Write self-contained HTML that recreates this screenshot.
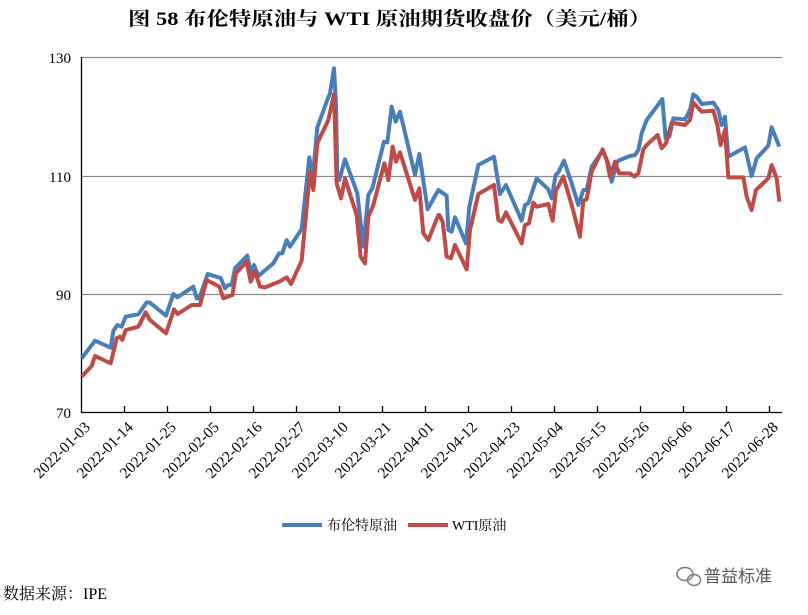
<!DOCTYPE html>
<html><head><meta charset="utf-8"><style>
body{margin:0;background:#fff;width:808px;height:610px;overflow:hidden}
text{font-family:"Liberation Serif","Noto Serif CJK SC",serif}
</style></head><body>
<svg width="808" height="610" xmlns="http://www.w3.org/2000/svg">
<text x="128" y="25" textLength="523" lengthAdjust="spacingAndGlyphs" font-size="19" font-weight="bold" fill="#000">图 58  布伦特原油与 WTI 原油期货收盘价（美元/桶）</text>
<g stroke="#8c8c8c" stroke-width="1.3">
<line x1="82" y1="57.5" x2="782" y2="57.5"/>
<line x1="82" y1="176.5" x2="782" y2="176.5"/>
<line x1="82" y1="294.5" x2="782" y2="294.5"/>
</g>
<g stroke="#000" stroke-width="1.3">
<line x1="81.5" y1="57" x2="81.5" y2="412.5"/>
<line x1="81" y1="412.5" x2="782" y2="412.5"/>
<line x1="124.5" y1="406" x2="124.5" y2="412"/><line x1="167.5" y1="406" x2="167.5" y2="412"/><line x1="210.5" y1="406" x2="210.5" y2="412"/><line x1="253.5" y1="406" x2="253.5" y2="412"/><line x1="296.5" y1="406" x2="296.5" y2="412"/><line x1="339.5" y1="406" x2="339.5" y2="412"/><line x1="382.5" y1="406" x2="382.5" y2="412"/><line x1="425.5" y1="406" x2="425.5" y2="412"/><line x1="468.5" y1="406" x2="468.5" y2="412"/><line x1="511.5" y1="406" x2="511.5" y2="412"/><line x1="554.5" y1="406" x2="554.5" y2="412"/><line x1="597.5" y1="406" x2="597.5" y2="412"/><line x1="640.5" y1="406" x2="640.5" y2="412"/><line x1="683.5" y1="406" x2="683.5" y2="412"/><line x1="726.5" y1="406" x2="726.5" y2="412"/><line x1="769.5" y1="406" x2="769.5" y2="412"/>
</g>
<g font-size="15" text-anchor="end" fill="#000">
<text x="71" y="63">130</text><text x="71" y="182">110</text><text x="71" y="300">90</text><text x="71" y="418">70</text>
</g>
<g font-size="15.5" text-anchor="end" fill="#000" id="xl"></g>
<g transform="translate(80,50) scale(0.33333)" fill="none" stroke-linejoin="round">
<polyline stroke="#4a7ebb" stroke-width="12" points="5,925 45,872 92,893 100,843 112,825 125,830 137,800 175,793 200,757 210,758 258,797 280,732 292,742 340,710 350,745 358,745 383,672 422,684 435,715 445,705 455,705 465,655 502,617 513,670 522,645 535,678 580,640 597,610 607,610 620,570 630,590 665,537 688,322 698,385 712,232 742,150 750,130 762,55 768,160 772,385 778,390 795,328 832,430 850,590 865,435 877,415 912,275 922,277 935,170 947,215 960,185 1005,375 1018,312 1043,478 1075,420 1050,465 1075,420 1100,437 1105,540 1115,545 1125,502 1158,580 1168,470 1195,345 1242,320 1260,432 1278,405 1325,512 1335,465 1345,460 1370,385 1405,418 1415,445 1427,375 1435,367 1452,332 1475,400 1495,465 1510,420 1520,420 1535,350 1568,302 1585,340 1595,395 1610,340 1615,332 1650,318 1665,315 1675,300 1685,250 1700,210 1730,170 1747,147 1757,265 1768,260 1780,205 1815,208 1830,180 1840,133 1850,140 1865,162 1900,158 1915,180 1925,225 1935,200 1945,320 1995,292 2015,378 2030,325 2065,287 2075,232 2098,290"/>
<polyline stroke="#be4b48" stroke-width="12" points="5,980 35,948 45,918 92,940 110,865 120,860 127,870 137,840 175,830 197,787 210,810 258,850 282,778 293,792 335,765 360,765 380,690 418,710 430,745 457,735 468,670 500,635 512,695 525,665 540,710 555,712 598,695 620,682 633,702 665,632 690,365 700,420 712,280 745,210 762,133 770,400 783,445 795,385 830,495 842,620 855,640 865,500 880,465 913,340 925,390 938,290 948,335 960,307 1005,450 1018,415 1030,550 1045,570 1075,495 1078,495 1088,515 1100,620 1113,625 1125,585 1160,658 1170,540 1195,432 1242,405 1255,510 1265,515 1278,487 1325,580 1335,525 1347,520 1360,458 1370,470 1405,462 1418,512 1428,420 1435,410 1450,380 1475,465 1487,510 1500,560 1510,452 1520,448 1535,365 1568,298 1580,330 1590,380 1605,335 1617,370 1650,370 1663,380 1675,370 1690,298 1700,285 1733,255 1745,295 1758,280 1775,218 1815,225 1830,210 1840,158 1865,185 1900,182 1912,225 1922,285 1935,240 1945,382 1990,382 2000,440 2015,480 2028,420 2065,385 2075,345 2090,385 2098,455"/>
</g>
<line x1="282" y1="525" x2="322" y2="525" stroke="#4a7ebb" stroke-width="4"/>
<text x="327" y="530" font-size="14" fill="#000">布伦特原油</text>
<line x1="408" y1="525" x2="448" y2="525" stroke="#be4b48" stroke-width="4"/>
<text x="452" y="530" font-size="14" fill="#000">WTI原油</text>
<text x="3" y="599" font-size="16" fill="#000">数据来源：IPE</text>
<g fill="none" stroke="#777" stroke-width="1.4"><ellipse cx="685" cy="574" rx="8" ry="6.5"/><ellipse cx="694" cy="580" rx="6.5" ry="5.5"/></g>
<text x="704" y="582" font-size="17" fill="#555" style="font-family:'Noto Sans CJK SC',sans-serif">普益标准</text>
</svg>
<script>
var d=["01-03","01-14","01-25","02-05","02-16","02-27","03-10","03-21","04-01","04-12","04-23","05-04","05-15","05-26","06-06","06-17","06-28"];
var g=document.getElementById("xl"),s="";
for(var i=0;i<d.length;i++){var x=82+i*43+9,y=428;s+='<text transform="translate('+x+','+y+') rotate(-45)">2022-'+d[i]+'</text>';}
g.innerHTML=s;
</script>
</body></html>
